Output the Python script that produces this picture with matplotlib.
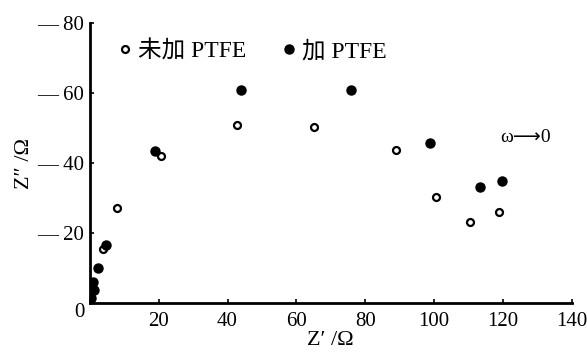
import matplotlib.pyplot as plt
from matplotlib.lines import Line2D

plt.rcParams['font.family'] = ['Liberation Serif', 'Noto Sans CJK SC', 'DejaVu Sans']

# impedance data (Z', -Z'')
open_x = [0.3, 3.7, 7.8, 20.8, 42.7, 65.1, 88.9, 100.6, 110.5, 118.8]
open_y = [1.5, 15.4, 27.1, 42.0, 50.9, 50.3, 43.7, 30.3, 23.1, 26.0]
filled_x = [0.4, 1.2, 0.9, 2.4, 4.7, 18.9, 43.8, 76.0, 98.8, 113.4, 119.6]
filled_y = [1.4, 3.7, 6.0, 10.1, 16.6, 43.4, 60.9, 60.9, 45.8, 33.2, 34.9]

x_ticks = [0, 20, 40, 60, 80, 100, 120, 140]
x_labels = ['', '20', '40', '60', '80', '100', '120', '140']
y_ticks = [0, 20, 40, 60, 80]
y_labels = ['0', '— 20', '— 40', '— 60', '— 80']

fig = plt.figure(figsize=(5.87, 3.55), dpi=100)
ax = fig.add_axes([0.153, 0.146, 0.821, 0.789])

ax.plot(open_x, open_y, 'o', ms=5, mfc='white', mec='black', mew=1.6)
ax.plot(filled_x, filled_y, 'o', ms=6.5, color='black')

ax.set_xlim(0, 140)
ax.set_ylim(0, 80)
ax.set_xticks(x_ticks)
ax.set_xticklabels(x_labels)
ax.set_yticks(y_ticks)
ax.set_yticklabels(y_labels)
ax.tick_params(direction='in', length=3, width=1.2, labelsize=15)
ax.tick_params(axis='x', pad=6)
ax.tick_params(axis='y', pad=4)
ax.get_yticklabels()[0].set_verticalalignment('top')

for s in ['top', 'right']:
    ax.spines[s].set_visible(False)
for s in ['left', 'bottom']:
    ax.spines[s].set_linewidth(2)

ax.set_xlabel("Z′ /Ω", fontsize=16, labelpad=0)
ax.set_ylabel("Z″ /Ω", fontsize=16, labelpad=2)

ax.text(126.5, 47.4, 'ω⟶0', fontsize=14, ha='center', va='center')

handles = [
    Line2D([], [], ls='', marker='o', ms=5, mfc='white', mec='black', mew=1.6),
    Line2D([], [], ls='', marker='o', ms=6.5, color='black'),
]
ax.legend(handles, ['未加 PTFE', '加 PTFE'], loc='upper left',
          bbox_to_anchor=(0.015, 1.015), ncol=2, frameon=False, fontsize=17,
          handlelength=0.6, handletextpad=0.25, columnspacing=1.5)

fig.savefig('out.png', dpi=100)
